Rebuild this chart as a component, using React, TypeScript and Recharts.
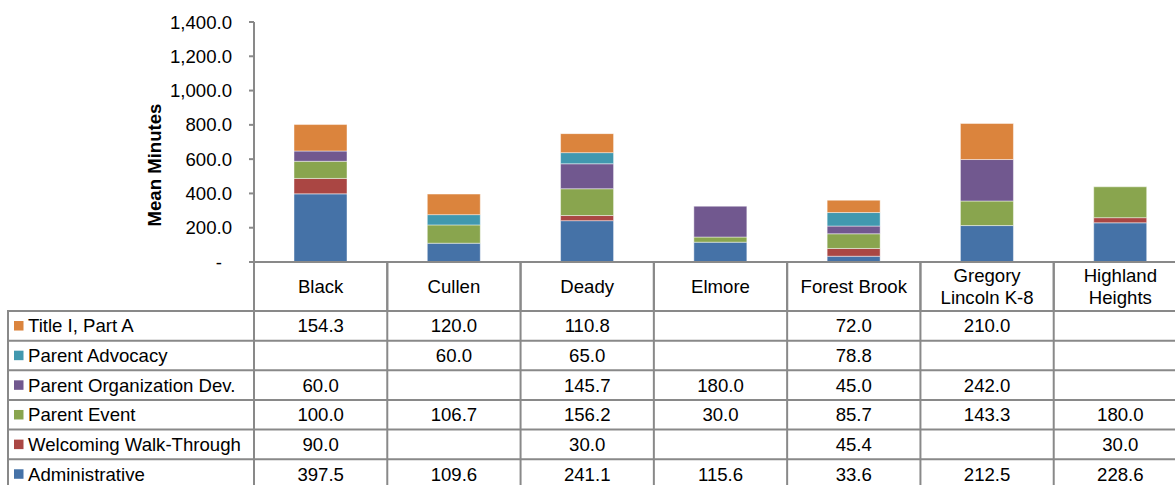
import React from 'react';
import { BarChart, Bar, XAxis, YAxis } from 'recharts';

const categories = ['Black', 'Cullen', 'Deady', 'Elmore', 'Forest Brook', 'Gregory Lincoln K-8', 'Highland Heights'];
const categoryLines = [['Black'], ['Cullen'], ['Deady'], ['Elmore'], ['Forest Brook'], ['Gregory', 'Lincoln K-8'], ['Highland', 'Heights']];

const administrative = [397.5, 109.6, 241.1, 115.6, 33.6, 212.5, 228.6];
const welcomingWalkThrough = [90.0, null, 30.0, null, 45.4, null, 30.0];
const parentEvent = [100.0, 106.7, 156.2, 30.0, 85.7, 143.3, 180.0];
const parentOrganizationDev = [60.0, null, 145.7, 180.0, 45.0, 242.0, null];
const parentAdvocacy = [null, 60.0, 65.0, null, 78.8, null, null];
const titleIPartA = [154.3, 120.0, 110.8, null, 72.0, 210.0, null];

const yTicks = [0, 200, 400, 600, 800, 1000, 1200, 1400];

// stacking order bottom -> top
const series = [
  { key: 'administrative', name: 'Administrative', values: administrative, color: '#4572A7' },
  { key: 'welcoming', name: 'Welcoming Walk-Through', values: welcomingWalkThrough, color: '#AA4643' },
  { key: 'parentEvent', name: 'Parent Event', values: parentEvent, color: '#89A54E' },
  { key: 'parentOrgDev', name: 'Parent Organization Dev.', values: parentOrganizationDev, color: '#71588F' },
  { key: 'parentAdvocacy', name: 'Parent Advocacy', values: parentAdvocacy, color: '#4198AF' },
  { key: 'titleI', name: 'Title I, Part A', values: titleIPartA, color: '#DB843D' },
];

const data = categories.map((c, i) => {
  const row: any = { name: c };
  series.forEach((s) => {
    row[s.key] = s.values[i];
  });
  return row;
});

const FONT = '"Liberation Sans", Arial, sans-serif';
const FS = 18.6;
const LINE = '#898989';

const CHART_W = 1195;
const CHART_H = 312;
const Y_AXIS_W = 254;
const MARGIN = { top: 22, right: 8, bottom: 0, left: 0 };
const X_AXIS_H = 50;
const AXIS_Y = CHART_H - MARGIN.bottom - X_AXIS_H; // 262
const PLOT_LEFT = MARGIN.left + Y_AXIS_W;
const PLOT_W = CHART_W - MARGIN.right - PLOT_LEFT;
const BAND = PLOT_W / categories.length;
const TABLE_TOP = 311;
const ROW_H = 29.65;
const LEGEND_LEFT = 8;

const fmt = (v: number) =>
  v.toLocaleString('en-US', { minimumFractionDigits: 1, maximumFractionDigits: 1 });

const YTick = (props: any) => {
  const { x, y, payload } = props;
  const v = payload.value;
  return (
    <text
      x={v === 0 ? x - 10 : x}
      y={y}
      dy={6.5}
      textAnchor="end"
      fontFamily={FONT}
      fontSize={FS}
      fill="#000"
    >
      {v === 0 ? '-' : fmt(v)}
    </text>
  );
};

const XTick = (props: any) => {
  const { x, index } = props;
  const lines = categoryLines[index] || [String(props.payload.value)];
  const left = x - BAND / 2;
  const centerY = (AXIS_Y + TABLE_TOP) / 2;
  const lh = 22;
  const startY = centerY - ((lines.length - 1) * lh) / 2;
  return (
    <g>
      <line x1={left} x2={left} y1={AXIS_Y} y2={TABLE_TOP} stroke={LINE} strokeWidth={2} />
      <text textAnchor="middle" fontFamily={FONT} fontSize={FS} fill="#000">
        {lines.map((l, i) => (
          <tspan key={i} x={x} y={startY + i * lh + 6.5}>
            {l}
          </tspan>
        ))}
      </text>
    </g>
  );
};

const tableRows = [...series].reverse();

export default function App() {
  const rowsBottom = TABLE_TOP + ROW_H * tableRows.length;
  return (
    <div
      style={{
        position: 'absolute',
        left: 0,
        top: 0,
        width: 1175,
        height: 485,
        overflow: 'hidden',
        background: '#fff',
      }}
    >
      <div style={{ position: 'absolute', left: 0, top: 0 }}>
        <BarChart width={CHART_W} height={CHART_H} data={data} margin={MARGIN} barSize={53}>
          <XAxis
            dataKey="name"
            height={X_AXIS_H}
            interval={0}
            tickLine={false}
            tickSize={0}
            tickMargin={0}
            axisLine={{ stroke: LINE, strokeWidth: 2 }}
            tick={<XTick />}
          />
          <YAxis
            width={Y_AXIS_W}
            domain={[0, 1400]}
            ticks={yTicks}
            interval={0}
            tickSize={5}
            tickMargin={17}
            axisLine={{ stroke: LINE, strokeWidth: 2 }}
            tickLine={{ stroke: LINE, strokeWidth: 2 }}
            tick={<YTick />}
          />
          {series.map((s) => (
            <Bar
              key={s.key}
              dataKey={s.key}
              name={s.name}
              stackId="a"
              fill={s.color}
              stroke="rgba(255,255,255,0.45)"
              strokeWidth={1}
              isAnimationActive={false}
            />
          ))}
        </BarChart>
      </div>

      <div
        style={{
          position: 'absolute',
          left: 141,
          top: 165,
          transform: 'translate(-50%, -50%) rotate(-90deg)',
          fontFamily: FONT,
          fontWeight: 'bold',
          fontSize: FS,
          whiteSpace: 'nowrap',
          color: '#000',
          transformOrigin: 'center',
          marginLeft: 14,
        }}
      >
        Mean Minutes
      </div>

      <svg
        width={1175}
        height={485}
        style={{ position: 'absolute', left: 0, top: 0 }}
      >
        <line x1={LEGEND_LEFT} x2={LEGEND_LEFT} y1={TABLE_TOP} y2={rowsBottom} stroke={LINE} strokeWidth={2} />
        {categories.map((c, i) => (
          <line
            key={c}
            x1={PLOT_LEFT + i * BAND}
            x2={PLOT_LEFT + i * BAND}
            y1={AXIS_Y}
            y2={rowsBottom}
            stroke={LINE}
            strokeWidth={2}
          />
        ))}
        {tableRows.map((s, r) => (
          <line
            key={s.key}
            x1={LEGEND_LEFT - 1}
            x2={PLOT_LEFT + PLOT_W}
            y1={TABLE_TOP + r * ROW_H}
            y2={TABLE_TOP + r * ROW_H}
            stroke={LINE}
            strokeWidth={2}
          />
        ))}
        <line x1={LEGEND_LEFT - 1} x2={PLOT_LEFT + PLOT_W} y1={rowsBottom} y2={rowsBottom} stroke={LINE} strokeWidth={2} />
        {tableRows.map((s, r) => {
          const cy = TABLE_TOP + r * ROW_H + ROW_H / 2;
          return (
            <g key={s.key}>
              <rect x={14} y={cy - 4.8} width={9.5} height={9.5} fill={s.color} />
              <text x={28} y={cy + 6.5} fontFamily={FONT} fontSize={FS} fill="#000">
                {s.name}
              </text>
              {s.values.map((v, i) =>
                v == null ? null : (
                  <text
                    key={i}
                    x={PLOT_LEFT + i * BAND + BAND / 2}
                    y={cy + 6.5}
                    textAnchor="middle"
                    fontFamily={FONT}
                    fontSize={FS}
                    fill="#000"
                  >
                    {fmt(v)}
                  </text>
                )
              )}
            </g>
          );
        })}
      </svg>
    </div>
  );
}
